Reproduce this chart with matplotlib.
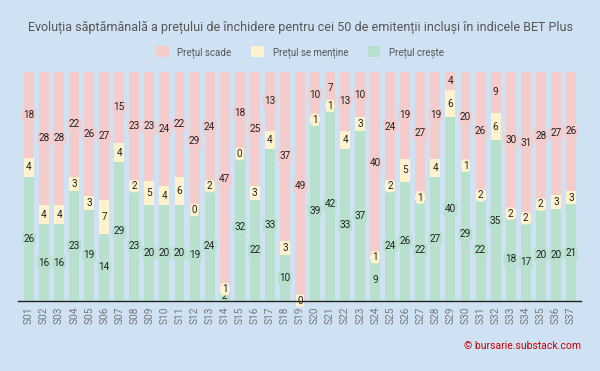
import matplotlib.pyplot as plt
from matplotlib.patches import Patch
import numpy as np

plt.rcParams["font.family"] = ["Roboto", "DejaVu Sans"]

# ---- data ----
weeks = [f"S{i:02d}" for i in range(1, 38)]
creste = [26, 16, 16, 23, 19, 14, 29, 23, 20, 20, 20, 19, 24, 2, 32, 22, 33, 10, 0,
          39, 42, 33, 37, 9, 24, 26, 22, 27, 40, 29, 22, 35, 18, 17, 20, 20, 21]
mentine = [4, 4, 4, 3, 3, 7, 4, 2, 5, 4, 6, 0, 2, 1, 0, 3, 4, 3, 0,
           1, 1, 4, 3, 1, 2, 5, 1, 4, 6, 1, 2, 6, 2, 2, 2, 3, 3]
scade = [18, 28, 28, 22, 26, 27, 15, 23, 23, 24, 22, 29, 24, 47, 18, 25, 13, 37, 49,
         10, 7, 13, 10, 40, 24, 19, 27, 19, 4, 20, 26, 9, 30, 31, 28, 27, 26]

BG = "#cfe2f3"
C_RED = "#f4cccc"
C_YEL = "#fff2cc"
C_GRN = "#b7e1cd"

fig = plt.figure(figsize=(6, 3.71), dpi=100, facecolor=BG)
ax = fig.add_axes([0.03, 0.1895, 0.938, 0.6175])
ax.set_facecolor(BG)

x = np.arange(len(weeks))
g = np.array(creste, float)
y = np.array(mentine, float)
r = np.array(scade, float)
tot = g + y + r
gp, yp, rp = g / tot, y / tot, r / tot

w = 0.66
ax.bar(x, gp, w, color=C_GRN, zorder=2)
ax.bar(x, yp, w, bottom=gp, color=C_YEL, zorder=2)
ax.bar(x, rp, w, bottom=gp + yp, color=C_RED, zorder=2)


def lab(xi, yc, val, col):
    ax.text(xi, yc, str(val), ha="center", va="center", fontsize=7.2,
            color="#222222", zorder=5,
            bbox=dict(boxstyle="round,pad=0.12", fc=col, ec="none"))


for i in range(len(weeks)):
    lab(x[i], gp[i] / 2, creste[i], C_GRN)
    lab(x[i], gp[i] + yp[i] / 2, mentine[i], C_YEL)
    lab(x[i], gp[i] + yp[i] + rp[i] / 2, scade[i], C_RED)

ax.set_xlim(-0.73, 36.66)
ax.set_ylim(0, 1)
ax.set_yticks([])
ax.set_xticks(x)
ax.set_xticklabels(weeks, rotation=90, fontsize=7.3, color="#777777")
ax.tick_params(axis="x", length=0, pad=4)
for s in ["top", "right", "left"]:
    ax.spines[s].set_visible(False)
ax.spines["bottom"].set_color("#222222")
ax.spines["bottom"].set_linewidth(1.0)
ax.spines["bottom"].set_zorder(6)

fig.text(0.5, 0.927,
         "Evoluția săptămânală a prețului de închidere pentru cei 50 de emitenții incluși în indicele BET Plus",
         ha="center", va="center", fontsize=9.0, color="#555555")

handles = [Patch(facecolor=C_RED, label="Prețul scade"),
           Patch(facecolor=C_YEL, label="Prețul se menține"),
           Patch(facecolor=C_GRN, label="Prețul crește")]
fig.legend(handles=handles, loc="center", bbox_to_anchor=(0.5, 0.86), ncol=3,
           frameon=False, fontsize=7, labelcolor="#555555",
           handlelength=1.3, handleheight=1.3, columnspacing=2.0, handletextpad=0.9)

fig.text(0.968, 0.067, "© bursarie.substack.com", ha="right", va="center",
         fontsize=7.5, color="#cc0000")

fig.savefig("out.png", dpi=100, facecolor=BG)
